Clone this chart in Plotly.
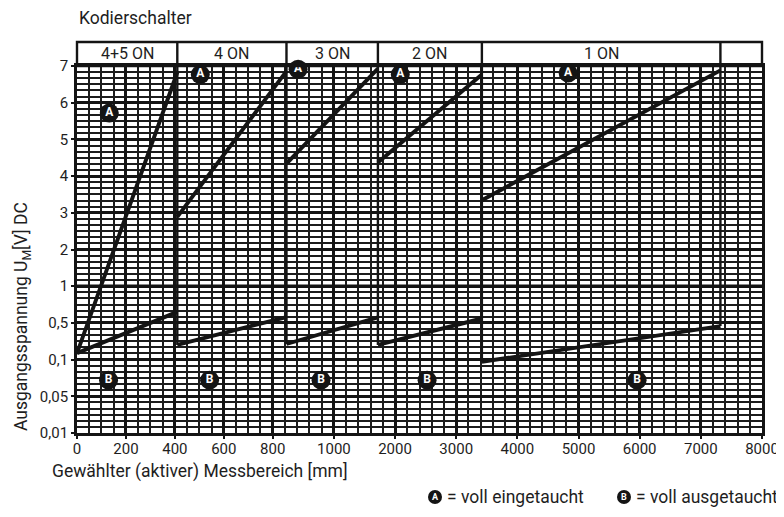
import numpy as np
import plotly.graph_objects as go

# ---------------- data ----------------
panel_labels = ["4+5 ON", "4 ON", "3 ON", "2 ON", "1 ON"]
panel_start_mm = [0, 410, 845, 1720, 3420]
panel_end_mm = [410, 845, 1720, 3420, 7320]

# curve A (voll eingetaucht) start / end voltage per panel
a_start_v = [0.17, 2.89, 4.34, 4.37, 3.34]
a_end_v = [6.83, 6.86, 6.93, 6.77, 6.88]
# curve B (voll ausgetaucht) start / end voltage per panel
b_start_v = [0.17, 0.26, 0.27, 0.26, 0.097]
b_end_v = [0.65, 0.58, 0.575, 0.56, 0.465]

x_tick_mm = [0, 200, 400, 600, 800, 1000, 2000, 3000, 4000, 5000, 6000, 7000, 8000]
x_tick_text = ["0", "200", "400", "600", "800", "1000", "2000", "3000", "4000",
               "5000", "6000", "7000", "8000"]
y_tick_v = [0.01, 0.05, 0.1, 0.5, 1, 2, 3, 4, 5, 6, 7]
y_tick_text = ["0,01", "0,05", "0,1", "0,5", "1", "2", "3", "4", "5", "6", "7"]

# ---------------- graph-paper scales ----------------
X_ANCH_MM = [0, 800, 1000, 8000]
X_ANCH_COL = [0, 16, 21, 56]
Y_ANCH_V = [0.01, 0.05, 0.1, 0.5, 1]
Y_ANCH_ROW = [0, 6, 12, 18, 24]


def fx(mm):
    return np.interp(mm, X_ANCH_MM, X_ANCH_COL)


def fy(v):
    v = np.asarray(v, dtype=float)
    return np.where(v >= 1, 24 + (v - 1) * 6, np.interp(v, Y_ANCH_V, Y_ANCH_ROW))


NCOL, NROW = 56, 60
FONT = "Roboto, 'Liberation Sans', Arial, sans-serif"
INK = "#141414"
TXT = "#1e1e1e"

OFF = 8  # page body margin of the html output
W, H = 784 - OFF, 517 - OFF
ML, MT = 77 - OFF, 66 - OFF
MR, MB = 22, 84
PW, PH = W - ML - MR, H - MT - MB
HEADER_H = 24  # px


def px_y(py):
    """screen pixel row -> paper y"""
    return (MT + PH - (py - OFF)) / PH


def px_x(px):
    """screen pixel column -> paper x"""
    return (px - OFF - ML) / PW


fig = go.Figure()

for i in range(len(panel_labels)):
    xs = fx([panel_start_mm[i], panel_end_mm[i]])
    fig.add_trace(go.Scatter(x=xs, y=fy([a_start_v[i], a_end_v[i]]), mode="lines",
                             line=dict(color=INK, width=3.9), hoverinfo="skip",
                             showlegend=False, cliponaxis=False))
    fig.add_trace(go.Scatter(x=xs, y=fy([b_start_v[i], b_end_v[i]]), mode="lines",
                             line=dict(color=INK, width=3.9), hoverinfo="skip",
                             showlegend=False, cliponaxis=False))

for i in range(len(panel_labels)):
    low = b_start_v[i + 1] if i + 1 < len(panel_labels) else b_end_v[i]
    xe = fx(panel_end_mm[i])
    fig.add_trace(go.Scatter(x=[xe, xe], y=[float(fy(low)), NROW], mode="lines",
                             line=dict(color=INK, width=2.4), hoverinfo="skip",
                             showlegend=False))

a_lbl_mm = [132, 504, 883, 2086, 4830]
a_lbl_v = [5.72, 6.77, 6.91, 6.77, 6.81]
b_lbl_mm = [129, 542, 958, 2524, 5958]
b_lbl_v = [0.072] * 5
for xs_mm, vs, letter in [(a_lbl_mm, a_lbl_v, "A"), (b_lbl_mm, b_lbl_v, "B")]:
    fig.add_trace(go.Scatter(
        x=fx(xs_mm), y=fy(vs), mode="markers+text", text=[letter] * len(xs_mm),
        textposition="middle center", cliponaxis=False,
        textfont=dict(family="Roboto, Arial, sans-serif", size=12, color="white", weight="bold"),
        marker=dict(size=19, color=INK, line=dict(width=0)),
        hoverinfo="skip", showlegend=False))

shapes = []
shapes.append(dict(type="line", xref="x", yref="y", x0=0, x1=NCOL, y0=float(fy(1)),
                   y1=float(fy(1)), line=dict(color=INK, width=3.6), layer="below"))
htop = 1 + HEADER_H / PH
shapes.append(dict(type="rect", xref="paper", yref="paper", x0=0, x1=1, y0=1, y1=htop,
                   line=dict(color=INK, width=2.4), fillcolor="rgba(0,0,0,0)"))
for i in range(len(panel_labels)):
    xp = float(fx(panel_end_mm[i])) / NCOL
    shapes.append(dict(type="line", xref="paper", yref="paper", x0=xp, x1=xp, y0=1, y1=htop,
                       line=dict(color=INK, width=2.4)))

leg_items = [(435, "A", "= voll eingetaucht"), (624, "B", "= voll ausgetaucht")]
annotations = []
leg_y = px_y(497)
for cx, letter, txt in leg_items:
    shapes.append(dict(type="circle", xref="paper", yref="paper", xsizemode="pixel",
                       ysizemode="pixel", xanchor=px_x(cx), yanchor=leg_y,
                       x0=-7, x1=7, y0=-7, y1=7, fillcolor=INK, line=dict(width=0)))
    annotations.append(dict(xref="paper", yref="paper", x=px_x(cx), y=leg_y, text=letter,
                            showarrow=False, xanchor="center", yanchor="middle",
                            font=dict(family="Roboto, Arial", size=9, color="white", weight="bold")))
    annotations.append(dict(xref="paper", yref="paper", x=px_x(cx + 10), y=leg_y, text=txt,
                            showarrow=False, xanchor="left", yanchor="middle",
                            font=dict(family=FONT, size=17.5, color=TXT)))

for i, lab in enumerate(panel_labels):
    xc = (float(fx(panel_start_mm[i])) + float(fx(panel_end_mm[i]))) / 2 / NCOL
    annotations.append(dict(xref="paper", yref="paper", x=xc, y=1 + HEADER_H / 2 / PH,
                            text=lab, showarrow=False, xanchor="center", yanchor="middle",
                            font=dict(family=FONT, size=16, color=TXT)))

annotations += [
    dict(xref="paper", yref="paper", x=px_x(77), y=px_y(18), text="Kodierschalter",
         showarrow=False, xanchor="left", yanchor="middle",
         font=dict(family=FONT, size=17.5, color=TXT)),
    dict(xref="paper", yref="paper", x=px_x(50), y=px_y(471),
         text="Gewählter (aktiver) Messbereich [mm]", showarrow=False,
         xanchor="left", yanchor="middle", font=dict(family=FONT, size=17.5, color=TXT)),
    dict(xref="paper", yref="paper", x=px_x(22), y=px_y(317),
         text="Ausgangsspannung U<sub>M</sub>[V] DC", showarrow=False, textangle=-90,
         xanchor="center", yanchor="middle", font=dict(family=FONT, size=17.5, color=TXT)),
]

fig.update_layout(
    width=W, height=H, margin=dict(l=ML, r=MR, t=MT, b=MB, autoexpand=False),
    paper_bgcolor="white", plot_bgcolor="white",
    font=dict(family=FONT, color=TXT, size=15),
    shapes=shapes, annotations=annotations, showlegend=False,
    xaxis=dict(range=[0, NCOL], tickmode="array", tickvals=fx(x_tick_mm), ticktext=x_tick_text,
               showgrid=True, gridcolor=INK, gridwidth=2.6, zeroline=False, automargin=False,
               ticks="outside", ticklen=3, tickwidth=2, tickcolor=INK,
               showline=True, linecolor=INK, linewidth=2.8, mirror=True,
               tickfont=dict(size=15, color=TXT), fixedrange=True,
               minor=dict(tick0=0, dtick=1, showgrid=True, gridcolor="#1c1c1c", gridwidth=1.5)),
    yaxis=dict(range=[0, NROW], tickmode="array", tickvals=fy(y_tick_v), ticktext=y_tick_text,
               showgrid=True, gridcolor=INK, gridwidth=2.6, zeroline=False, automargin=False,
               ticks="outside", ticklen=3, tickwidth=2, tickcolor=INK,
               showline=True, linecolor=INK, linewidth=2.8, mirror=True,
               tickfont=dict(size=15, color=TXT), fixedrange=True,
               minor=dict(tick0=0, dtick=1, showgrid=True, gridcolor="#1c1c1c", gridwidth=1.5)),
)
try:
    fig.update_xaxes(ticklabelstandoff=-3)
except Exception:
    pass

fig.write_html("out.html")
